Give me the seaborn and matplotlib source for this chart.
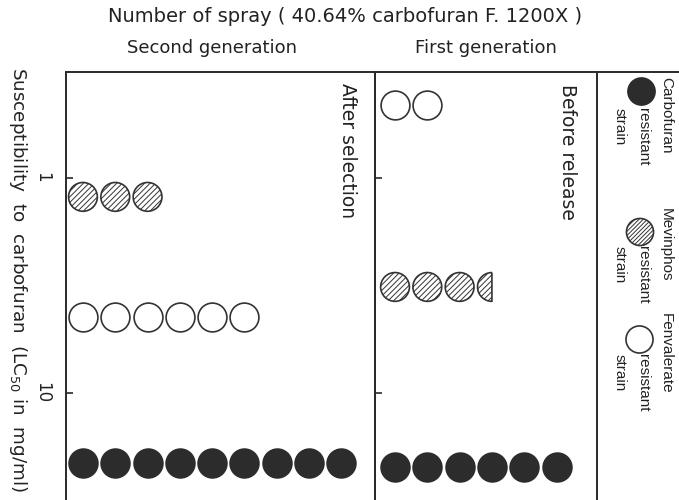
import numpy as np
import pandas as pd
import matplotlib
matplotlib.use("Agg")
import matplotlib.pyplot as plt
import seaborn as sns
from matplotlib.path import Path
from matplotlib.markers import MarkerStyle
from matplotlib.ticker import NullLocator

# ---------------- data ----------------
strains = ["Carbofuran", "Mevinphos", "Fenvalerate"]
second_gen_lc50 = [21.1, 1.23, 4.44]     # LC50 (mg/ml) after selection
second_gen_sprays = [9, 3, 6]            # number of sprays
first_gen_lc50 = [22.0, 3.22, 0.46]      # LC50 (mg/ml) before release
first_gen_sprays = [6, 3.5, 2]
y_ticks = [1, 10]
y_tick_labels = ["1", "10"]
panel_titles = ["Second generation", "First generation"]
panel_notes = ["After selection", "Before release"]
title = "Number of spray ( 40.64% carbofuran F. 1200X )"
y_label = "Susceptibility  to  carbofuran  (LC$_{50}$ in  mg/ml)"

sns.set_theme(style="white")
plt.rcParams["font.family"] = ["DejaVu Sans"]
plt.rcParams["hatch.linewidth"] = 0.7
plt.rcParams["hatch.color"] = "#4a4a4a"


def build(lc50, sprays):
    rows = []
    for s, v, n in zip(strains, lc50, sprays):
        k = 1
        while k - 1 < n:
            rows.append(dict(strain=s, spray=k, lc50=v,
                             part="full" if k <= n else "half"))
            k += 1
    return pd.DataFrame(rows)


df_second = build(second_gen_lc50, second_gen_sprays)
df_first = build(first_gen_lc50, first_gen_sprays)

# half-circle (left half) marker
t = np.linspace(np.pi / 2, 3 * np.pi / 2, 40)
verts = np.column_stack([np.cos(t), np.sin(t)])
verts = np.vstack([verts, verts[:1]])
half_marker = MarkerStyle(Path(verts))

styles = {
    "Carbofuran": dict(color="#2c2c2c", edgecolor="#2c2c2c", hatch=None),
    "Mevinphos": dict(color="white", edgecolor="#333333", hatch="//////"),
    "Fenvalerate": dict(color="white", edgecolor="#333333", hatch=None),
}
S = 430
LW = 1.2
FRAME = "#2a2a2a"
TXT = "#222222"
LEG_FONT = ["Liberation Sans", "DejaVu Sans"]

W, H = 679, 500
fig = plt.figure(figsize=(W / 100, H / 100), dpi=100)
top_px, bot_px = 72, 500


def fx(px):
    return px / W


def fy(py):
    return 1 - py / H


ax3 = fig.add_axes([fx(597), 0, fx(679 - 597), (bot_px - top_px) / H])
ax1 = fig.add_axes([fx(66), 0, fx(375 - 66), (bot_px - top_px) / H])
ax2 = fig.add_axes([fx(375), 0, fx(597 - 375), (bot_px - top_px) / H])
for a in (ax1, ax2, ax3):
    a.patch.set_visible(False)

ylim = (31.37, 0.3239)
unit = 32.3

for ax, df, x0, wpx in [(ax1, df_second, 0.475, 375 - 66),
                         (ax2, df_first, 0.38, 597 - 375)]:
    for s in strains:
        st = styles[s]
        for part, mk in [("full", "o"), ("half", half_marker)]:
            sub = df[(df.strain == s) & (df.part == part)]
            if sub.empty:
                continue
            kw = dict(color=st["color"], edgecolor=st["edgecolor"])
            if st["hatch"]:
                kw["hatch"] = st["hatch"]
            sns.scatterplot(data=sub, x="spray", y="lc50", ax=ax, marker=mk,
                            s=S, linewidth=LW, legend=False, zorder=3,
                            clip_on=False, **kw)
    ax.set_yscale("log")
    ax.set_ylim(*ylim)
    ax.set_xlim(x0, x0 + wpx / unit)
    ax.set_xlabel("")
    ax.set_ylabel("")
    ax.set_xticks([])
    ax.set_yticks(y_ticks)
    ax.yaxis.set_minor_locator(NullLocator())
    for side in ["top", "left", "right"]:
        ax.spines[side].set_visible(True)
        ax.spines[side].set_color(FRAME)
        ax.spines[side].set_linewidth(1.4)
    ax.spines["bottom"].set_visible(False)
    ax.tick_params(axis="y", which="major", direction="in", length=5,
                   width=1.2, color=FRAME, left=True)

ax1.set_yticklabels(y_tick_labels, rotation=-90, va="center",
                    fontsize=12, color=TXT)
ax1.tick_params(axis="y", pad=11)
ax2.tick_params(axis="y", labelleft=False)

# legend panel
ax3.set_xlim(0, 1)
ax3.set_ylim(0, 1)
ax3.set_xticks([])
ax3.set_yticks([])
for side in ["left", "right", "bottom"]:
    ax3.spines[side].set_visible(False)
ax3.spines["top"].set_visible(True)
ax3.spines["top"].set_color(FRAME)
ax3.spines["top"].set_linewidth(1.4)

legend_pos = {  # (circle x, circle y, first line top y, rest top y) in px
    "Carbofuran": (641, 91, 77, 108),
    "Mevinphos": (640, 232, 208, 246),
    "Fenvalerate": (639, 339, 313, 354),
}
for s in strains:
    cx, cy, t1, t2 = legend_pos[s]
    st = styles[s]
    kw = dict(color=st["color"], edgecolor=st["edgecolor"])
    if st["hatch"]:
        kw["hatch"] = "////////"
    ax3.scatter([(cx - 597) / 82], [1 - (cy - top_px) / (bot_px - top_px)],
                s=380, marker="o", linewidth=LW, zorder=3, clip_on=False, **kw)
    fig.text(fx(666), fy(t1), s, rotation=-90, ha="center", va="top",
             fontsize=11, family=LEG_FONT, color=TXT)
    fig.text(fx(643), fy(t2), "resistant", rotation=-90, ha="center",
             va="top", fontsize=11, family=LEG_FONT, color=TXT)
    fig.text(fx(620), fy(t2), "strain", rotation=-90, ha="center",
             va="top", fontsize=11, family=LEG_FONT, color=TXT)

# titles
fig.text(fx(345), fy(17), title, ha="center", va="center", fontsize=14,
         color=TXT)
fig.text(fx(212), fy(48), panel_titles[0], ha="center", va="center",
         fontsize=13, color=TXT)
fig.text(fx(486), fy(48), panel_titles[1], ha="center", va="center",
         fontsize=13, color=TXT)

# notes inside panels
fig.text(fx(347), fy(83), panel_notes[0], rotation=-90, ha="center",
         va="top", fontsize=13.5, color=TXT)
fig.text(fx(567), fy(84), panel_notes[1], rotation=-90, ha="center",
         va="top", fontsize=13.5, color=TXT)

# y label
fig.text(fx(18), fy(280), y_label, rotation=-90, ha="center", va="center",
         fontsize=13.2, color=TXT)

fig.savefig("out.png", dpi=100)
